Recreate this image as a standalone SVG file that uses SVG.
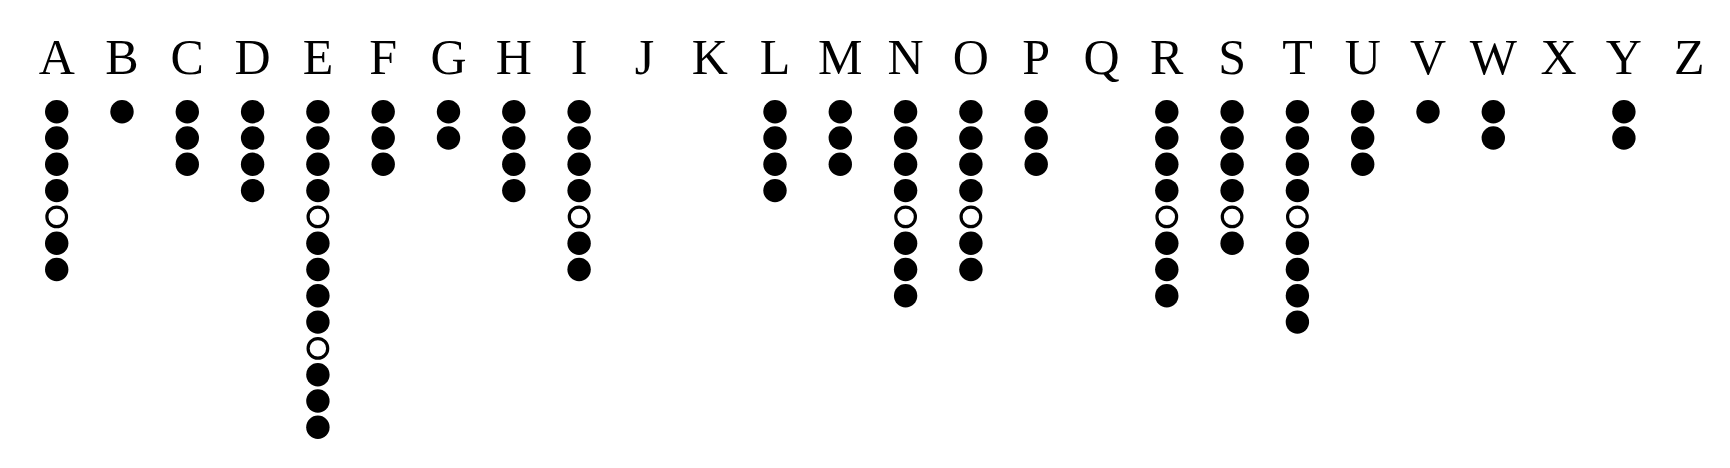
<svg xmlns="http://www.w3.org/2000/svg" width="1730" height="468" viewBox="0 0 1730 468">
<style>
.l{font-family:"Liberation Serif","Times New Roman",serif;font-size:50px;fill:#000;text-anchor:middle}
.f{fill:#000}
.o{fill:#fff;stroke:#000;stroke-width:3.2}
</style>
<defs>
<circle id="d" r="11.7" class="f"/>
<circle id="c" r="9.8" class="o"/>
</defs>
<rect width="1730" height="468" fill="#fff"/>
<g id="labels">
<text class="l" x="56.7" y="74">A</text>
<text class="l" x="122" y="74">B</text>
<text class="l" x="187.3" y="74">C</text>
<text class="l" x="252.6" y="74">D</text>
<text class="l" x="317.9" y="74">E</text>
<text class="l" x="383.2" y="74">F</text>
<text class="l" x="448.5" y="74">G</text>
<text class="l" x="513.8" y="74">H</text>
<text class="l" x="579.1" y="74">I</text>
<text class="l" x="644.4" y="74">J</text>
<text class="l" x="709.7" y="74">K</text>
<text class="l" x="775" y="74">L</text>
<text class="l" x="840.3" y="74">M</text>
<text class="l" x="905.6" y="74">N</text>
<text class="l" x="970.9" y="74">O</text>
<text class="l" x="1036.2" y="74">P</text>
<text class="l" x="1101.5" y="74">Q</text>
<text class="l" x="1166.8" y="74">R</text>
<text class="l" x="1232.1" y="74">S</text>
<text class="l" x="1297.4" y="74">T</text>
<text class="l" x="1362.7" y="74">U</text>
<text class="l" x="1428" y="74">V</text>
<text class="l" x="1493.3" y="74">W</text>
<text class="l" x="1558.6" y="74">X</text>
<text class="l" x="1623.9" y="74">Y</text>
<text class="l" x="1689.2" y="74">Z</text>
</g>
<g id="col-A" transform="translate(56.7,111.7)">
<use href="#d" y="0"/><use href="#d" y="26.3"/><use href="#d" y="52.6"/><use href="#d" y="78.9"/><use href="#c" y="105.2"/><use href="#d" y="131.5"/><use href="#d" y="157.8"/>
</g>
<g id="col-B" transform="translate(122,111.7)">
<use href="#d" y="0"/>
</g>
<g id="col-C" transform="translate(187.3,111.7)">
<use href="#d" y="0"/><use href="#d" y="26.3"/><use href="#d" y="52.6"/>
</g>
<g id="col-D" transform="translate(252.6,111.7)">
<use href="#d" y="0"/><use href="#d" y="26.3"/><use href="#d" y="52.6"/><use href="#d" y="78.9"/>
</g>
<g id="col-E" transform="translate(317.9,111.7)">
<use href="#d" y="0"/><use href="#d" y="26.3"/><use href="#d" y="52.6"/><use href="#d" y="78.9"/><use href="#c" y="105.2"/><use href="#d" y="131.5"/><use href="#d" y="157.8"/><use href="#d" y="184.1"/><use href="#d" y="210.4"/><use href="#c" y="236.7"/><use href="#d" y="263"/><use href="#d" y="289.3"/><use href="#d" y="315.6"/>
</g>
<g id="col-F" transform="translate(383.2,111.7)">
<use href="#d" y="0"/><use href="#d" y="26.3"/><use href="#d" y="52.6"/>
</g>
<g id="col-G" transform="translate(448.5,111.7)">
<use href="#d" y="0"/><use href="#d" y="26.3"/>
</g>
<g id="col-H" transform="translate(513.8,111.7)">
<use href="#d" y="0"/><use href="#d" y="26.3"/><use href="#d" y="52.6"/><use href="#d" y="78.9"/>
</g>
<g id="col-I" transform="translate(579.1,111.7)">
<use href="#d" y="0"/><use href="#d" y="26.3"/><use href="#d" y="52.6"/><use href="#d" y="78.9"/><use href="#c" y="105.2"/><use href="#d" y="131.5"/><use href="#d" y="157.8"/>
</g>
<g id="col-L" transform="translate(775,111.7)">
<use href="#d" y="0"/><use href="#d" y="26.3"/><use href="#d" y="52.6"/><use href="#d" y="78.9"/>
</g>
<g id="col-M" transform="translate(840.3,111.7)">
<use href="#d" y="0"/><use href="#d" y="26.3"/><use href="#d" y="52.6"/>
</g>
<g id="col-N" transform="translate(905.6,111.7)">
<use href="#d" y="0"/><use href="#d" y="26.3"/><use href="#d" y="52.6"/><use href="#d" y="78.9"/><use href="#c" y="105.2"/><use href="#d" y="131.5"/><use href="#d" y="157.8"/><use href="#d" y="184.1"/>
</g>
<g id="col-O" transform="translate(970.9,111.7)">
<use href="#d" y="0"/><use href="#d" y="26.3"/><use href="#d" y="52.6"/><use href="#d" y="78.9"/><use href="#c" y="105.2"/><use href="#d" y="131.5"/><use href="#d" y="157.8"/>
</g>
<g id="col-P" transform="translate(1036.2,111.7)">
<use href="#d" y="0"/><use href="#d" y="26.3"/><use href="#d" y="52.6"/>
</g>
<g id="col-R" transform="translate(1166.8,111.7)">
<use href="#d" y="0"/><use href="#d" y="26.3"/><use href="#d" y="52.6"/><use href="#d" y="78.9"/><use href="#c" y="105.2"/><use href="#d" y="131.5"/><use href="#d" y="157.8"/><use href="#d" y="184.1"/>
</g>
<g id="col-S" transform="translate(1232.1,111.7)">
<use href="#d" y="0"/><use href="#d" y="26.3"/><use href="#d" y="52.6"/><use href="#d" y="78.9"/><use href="#c" y="105.2"/><use href="#d" y="131.5"/>
</g>
<g id="col-T" transform="translate(1297.4,111.7)">
<use href="#d" y="0"/><use href="#d" y="26.3"/><use href="#d" y="52.6"/><use href="#d" y="78.9"/><use href="#c" y="105.2"/><use href="#d" y="131.5"/><use href="#d" y="157.8"/><use href="#d" y="184.1"/><use href="#d" y="210.4"/>
</g>
<g id="col-U" transform="translate(1362.7,111.7)">
<use href="#d" y="0"/><use href="#d" y="26.3"/><use href="#d" y="52.6"/>
</g>
<g id="col-V" transform="translate(1428,111.7)">
<use href="#d" y="0"/>
</g>
<g id="col-W" transform="translate(1493.3,111.7)">
<use href="#d" y="0"/><use href="#d" y="26.3"/>
</g>
<g id="col-Y" transform="translate(1623.9,111.7)">
<use href="#d" y="0"/><use href="#d" y="26.3"/>
</g>
<g id="connectors"/>
</svg>
